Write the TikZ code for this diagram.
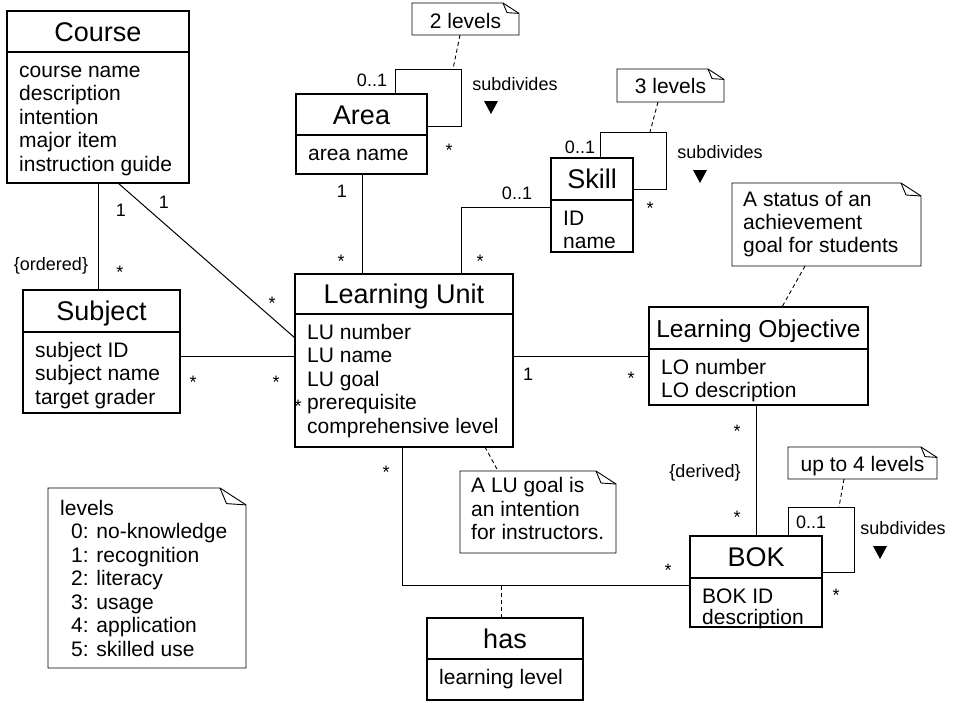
\documentclass[tikz,border=0pt]{standalone}
\usepackage{fontspec}
\setmainfont{Liberation Sans}
\usetikzlibrary{calc}
\tikzset{
  classbox/.style={draw, line width=1.6pt, inner sep=0pt, outer sep=0pt},
  classline/.style={line width=1.6pt},
  titletext/.style={inner sep=0pt, anchor=base, font=\fontsize{27}{31}\selectfont},
  attrtext/.style={inner sep=0pt, anchor=base west, font=\fontsize{21}{24}\selectfont},
  notebox/.style={inner sep=0pt, outer sep=0pt},
  noteline/.style={line width=0.9pt},
  notetext/.style={inner sep=0pt, anchor=base west, font=\fontsize{21}{24}\selectfont},
  notetextc/.style={inner sep=0pt, anchor=base, font=\fontsize{21}{24}\selectfont},
  lbl/.style={inner sep=0pt, font=\fontsize{18}{21}\selectfont},
  starlbl/.style={lbl, yshift=-4pt},
  assoc/.style={line width=1pt},
  anchorline/.style={line width=0.9pt, dash pattern=on 4pt off 3pt},
  navtri/.style={fill=black},
}
% #1 name, #2 x1, #3 y1, #4 x2, #5 y2, #6 ydiv, #7 title, #8 attrs, #9 line spacing
\newcommand{\umlclass}[9]{%
  \node[classbox, minimum width={#4-#2}, minimum height={#5-#3}, anchor=north west] (#1) at (#2,#3) {};
  \draw[classline] (#1.west |- 0,#6) -- (#1.east |- 0,#6);
  \node[titletext] (#1-title) at ({(#2+#4)/2},{(#3+#6)/2+9.5}) {#7};
  \foreach \attxt [count=\attn] in {#8} {
    \node[attrtext] (#1-a\attn) at (#2+12, #6+25+#9*\attn-#9) {\attxt};
  }
}
% [#1 fold width], #2 name, #3 x1, #4 y1, #5 x2, #6 y2
\newcommand{\umlnote}[6][16]{%
  \node[notebox, minimum width={#5-#3}, minimum height={#6-#4}, anchor=north west] (#2) at (#3,#4) {};
  \draw[noteline] (#2.south west) -- (#2.north west) -- ([xshift=-#1 pt]#2.north east)
     -- ([yshift=-0.65*#1 pt]#2.north east) -- (#2.south east) -- cycle;
  \draw[noteline] ([xshift=-#1 pt]#2.north east) -- ([xshift=-0.75*#1 pt,yshift=-0.6*#1 pt]#2.north east) -- ([yshift=-0.65*#1 pt]#2.north east);
}
\begin{document}
\begin{tikzpicture}[x=1pt,y=-1pt]
\useasboundingbox (0,0) rectangle (955,702);
\fill[white] (0,0) rectangle (955,702);

% classes
\umlclass{course}{7}{11}{189}{183}{52}{Course}{course name,description,intention,major item,instruction guide}{23.5}
\umlclass{subject}{23}{290}{180}{413}{332}{Subject}{subject ID,subject name,target grader}{23.5}
\umlclass{area}{296}{94}{427}{174}{135}{Area}{area name}{23.5}
\umlclass{skill}{551}{158}{633}{252}{200}{Skill}{ID,name}{23}
\umlclass{lu}{295}{274}{513}{447}{314}{Learning Unit}{LU number,LU name,LU goal,prerequisite,comprehensive level}{23.5}
\umlclass{lo}{649}{307}{868}{405}{349}{\fontsize{24.5}{28}\selectfont Learning Objective}{LO number,LO description}{23.5}
\umlclass{bok}{690}{536}{822}{627}{578}{BOK}{BOK ID,description}{21.5}
\umlclass{has}{427}{618}{583}{700}{659}{has}{learning level}{23.5}

% notes
\umlnote{n2}{412}{3}{519}{35}
\node[notetextc] (n2-t) at (465.5,28.5) {2 levels};
\umlnote{n3}{617}{69}{724}{102}
\node[notetextc] (n3-t) at (670.5,93.5) {3 levels};
\umlnote{n4}{788}{447}{937}{479}
\node[notetextc] (n4-t) at (862.5,471.5) {up to 4 levels};
\umlnote[20]{nst}{732}{183}{921}{266}
\node[notetext] (nst-1) at (743,206) {A status of an};
\node[notetext] (nst-2) at (743,229) {achievement};
\node[notetext] (nst-3) at (743,252) {goal for students};
\umlnote[20]{nlu}{460}{471}{616}{553}
\node[notetext] (nlu-1) at (471,492.5) {A LU goal is};
\node[notetext] (nlu-2) at (471,516) {an intention};
\node[notetext] (nlu-3) at (471,539.5) {for instructors.};
\umlnote[26]{nlev}{48}{488}{246}{668}
\node[notetext] (nlev-0) at (60,515) {levels};
\node[notetext] (nlev-1) at (71,538.5) {0: no-knowledge};
\node[notetext] (nlev-2) at (71,562) {1: recognition};
\node[notetext] (nlev-3) at (71,585.5) {2: literacy};
\node[notetext] (nlev-4) at (71,609) {3: usage};
\node[notetext] (nlev-5) at (71,632.5) {4: application};
\node[notetext] (nlev-6) at (71,656) {5: skilled use};

% associations
\draw[assoc] (course.south -| 98,0) -- (subject.north -| 98,0);
\draw[assoc] (course.south -| 118,0) -- (lu.west |- 0,338);
\draw[assoc] (subject.east |- 0,356) -- (lu.west |- 0,356);
\draw[assoc] (area.south -| 362,0) -- (lu.north -| 362,0);
\draw[assoc] (skill.west |- 0,207) -| (lu.north -| 461,0);
\draw[assoc] (lu.east |- 0,356) -- (lo.west |- 0,356);
\draw[assoc] (lu.south -| 402,0) |- (bok.west |- 0,585);
\draw[assoc] (lo.south -| 756,0) -- (bok.north -| 756,0);
% self associations
\draw[assoc] (area.north -| 395,0) |- (461,69) |- (area.east |- 0,126);
\draw[assoc] (skill.north -| 600,0) |- (666,132) |- (skill.east |- 0,189);
\draw[assoc] (bok.north -| 788,0) |- (854,507) |- (bok.east |- 0,572);

% note anchors
\draw[anchorline] (n2.south -| 460,0) -- (453,69);
\draw[anchorline] (n3.south -| 658,0) -- (650,132);
\draw[anchorline] (n4.south -| 844,0) -- (839,507);
\draw[anchorline] (nst.south -| 805,0) -- (lo.north -| 782,0);
\draw[anchorline] (lu.south -| 485,0) -- (nlu.north -| 498,0);
\draw[anchorline] (has.north -| 501,0) -- (501,585);

% multiplicities and labels
\node[lbl] (m1) at (121,210) {1};
\node[starlbl] (m2) at (120,268) {*};
\node[lbl] (m3) at (51,266) {\{ordered\}};
\node[lbl] (m4) at (164,202) {1};
\node[starlbl] (m5) at (272,299) {*};
\node[starlbl] (m6) at (193,378) {*};
\node[starlbl] (m7) at (276,378) {*};
\node[lbl] (m8) at (372,80) {0..1};
\node[starlbl] (m9) at (449,146) {*};
\node[lbl] (m10) at (515,84) {subdivides};
\node[lbl] (m11) at (342,191) {1};
\node[starlbl] (m12) at (341,257) {*};
\node[lbl] (m13) at (517,193) {0..1};
\node[starlbl] (m14) at (480,257) {*};
\node[lbl] (m15) at (580,147) {0..1};
\node[starlbl] (m16) at (650,204) {*};
\node[lbl] (m17) at (720,152) {subdivides};
\node[lbl] (m18) at (528,374) {1};
\node[starlbl] (m19) at (631,374) {*};
\node[starlbl] (m20) at (386,468) {*};
\node[starlbl] (m21) at (668,566) {*};
\node[starlbl] (m22) at (737,427) {*};
\node[lbl] (m23) at (705,473) {\{derived\}};
\node[starlbl] (m24) at (737,513) {*};
\node[lbl] (m25) at (811,522) {0..1};
\node[starlbl] (m26) at (836,591) {*};
\node[lbl] (m27) at (903,528) {subdivides};
\node[starlbl] (m28) at (298,402) {*};

% navigation triangles
\fill[navtri] (484,101) -- (498,101) -- (491,114) -- cycle;
\fill[navtri] (693,170) -- (707,170) -- (700,183) -- cycle;
\fill[navtri] (873,546) -- (887,546) -- (880,559) -- cycle;
\end{tikzpicture}
\end{document}
